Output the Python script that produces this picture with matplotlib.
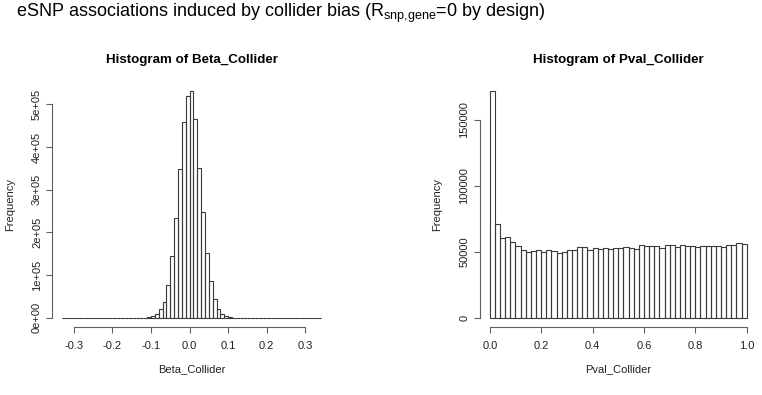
import matplotlib
matplotlib.use('Agg')
import matplotlib.pyplot as plt
import numpy as np

plt.rcParams['font.family'] = ['Liberation Sans', 'DejaVu Sans']

# histogram of Beta_Collider, bins of 0.01 from -0.33 to 0.34
beta_edges = np.round(np.arange(-0.33, 0.3401, 0.01), 2)
beta_counts = [0, 0, 0, 0, 0, 0, 0, 0, 0, 0, 0, 0, 0, 0, 0, 0, 0, 0, 30, 80, 250,
               800, 2300, 4700, 9400, 21000, 38000, 78000, 146000, 234000, 348000,
               458000, 520000, 531000, 466000, 352000, 248000, 152000, 87000, 45000,
               21000, 9400, 4700, 2300, 800, 250, 80, 30,
               0, 0, 0, 0, 0, 0, 0, 0, 0, 0, 0, 0, 0, 0, 0, 0, 0, 0, 0]

# histogram of Pval_Collider, bins of 0.02 from 0 to 1
pval_edges = np.round(np.arange(0, 1.0001, 0.02), 2)
pval_counts = [171800, 71500, 60900, 61600, 57300, 54300, 51700, 49700, 51000, 51500,
               49700, 51700, 50500, 49500, 50200, 51700, 51700, 54000, 54000, 51700,
               53300, 52500, 52800, 52000, 53300, 53300, 54000, 53000, 52500, 55300,
               54800, 54300, 54300, 53300, 55000, 55500, 54000, 55000, 54500, 54500,
               54000, 54800, 54500, 54300, 54500, 53500, 55300, 55000, 56800, 55800]

beta_ticks = [-0.3, -0.2, -0.1, 0.0, 0.1, 0.2, 0.3]
beta_yticks = [0, 100000, 200000, 300000, 400000, 500000]
beta_ylabels = ['0e+00', '1e+05', '2e+05', '3e+05', '4e+05', '5e+05']
pval_ticks = [0.0, 0.2, 0.4, 0.6, 0.8, 1.0]
pval_yticks = [0, 50000, 100000, 150000]
pval_ylabels = ['0', '50000', '100000', '150000']

W, H = 762, 395
fig = plt.figure(figsize=(W / 100, H / 100), dpi=100)
fig.patch.set_facecolor('white')

edge = '#3a3a3a'
axcol = '#606060'


def r_hist(rect, edges, counts, xt, xtl, yt, ytl, title, xlab, ylab_x):
    ax = fig.add_axes(rect)
    ax.bar(edges[:-1], counts, width=np.diff(edges), align='edge', fill=False,
           edgecolor=edge, linewidth=0.8)
    # R style: 4% extension of the data range
    x0, x1 = edges[0], edges[-1]
    dx = (x1 - x0) * 0.04
    ax.set_xlim(x0 - dx, x1 + dx)
    ym = max(counts)
    ax.set_ylim(-ym * 0.04, ym * 1.04)
    for s in ['top', 'right']:
        ax.spines[s].set_visible(False)
    for s in ['left', 'bottom']:
        ax.spines[s].set_color(axcol)
        ax.spines[s].set_linewidth(0.8)
    ax.spines['bottom'].set_bounds(xt[0], xt[-1])
    ax.spines['left'].set_bounds(yt[0], yt[-1])
    ax.set_xticks(xt)
    ax.set_xticklabels(xtl, fontsize=8)
    ax.set_yticks(yt)
    ax.set_yticklabels(ytl, fontsize=8, rotation=90, va='center')
    ax.tick_params(axis='both', length=4.2, width=0.8, color=axcol, colors='#222222')
    ax.tick_params(axis='x', pad=6)
    ax.tick_params(axis='y', pad=3)
    ax.set_title(title, fontsize=9.6, fontweight='bold', pad=14)
    ax.set_xlabel(xlab, fontsize=8, color='#222222')
    ax.xaxis.set_label_coords(0.5, -0.171)
    ax.xaxis.label.set_va('center')
    ax.set_ylabel('Frequency', fontsize=8, color='#222222')
    ax.yaxis.set_label_coords(ylab_x, 0.5)
    ax.yaxis.label.set_va('center')
    return ax


r_hist([52 / W, 1 - 327 / H, 279 / W, 245 / H], beta_edges, beta_counts,
       beta_ticks, ['%.1f' % t for t in beta_ticks], beta_yticks, beta_ylabels,
       'Histogram of Beta_Collider', 'Beta_Collider', -0.15)
r_hist([479.5 / W, 1 - 327 / H, 277.5 / W, 245 / H], pval_edges, pval_counts,
       pval_ticks, ['%.1f' % t for t in pval_ticks], pval_yticks, pval_ylabels,
       'Histogram of Pval_Collider', 'Pval_Collider', -0.153)

fig.text(16 / W, 1 - 17 / H,
         r'eSNP associations induced by collider bias (R$\mathregular{_{snp{,}gene}}$=0 by design)',
         fontsize=13, va='baseline', ha='left')

fig.savefig('out.png', dpi=100)
